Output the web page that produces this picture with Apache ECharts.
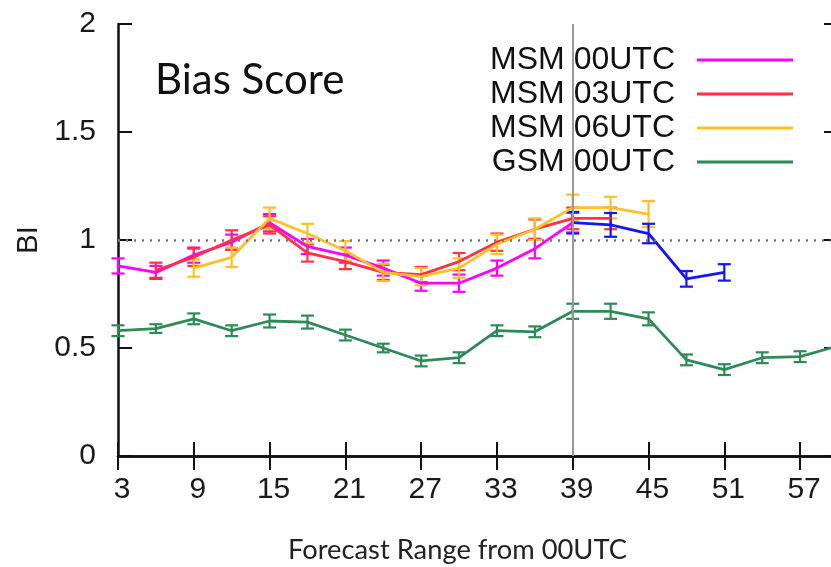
<!DOCTYPE html>
<html>
<head>
<meta charset="utf-8">
<script src="https://cdn.jsdelivr.net/npm/echarts@6/dist/echarts.min.js"></script>
<style>
  html, body { margin: 0; padding: 0; background: #fff; }
  #chart { width: 831px; height: 567px; }
</style>
</head>
<body>
<div id="chart"></div>
<script>
// forecast hours (from 00UTC) and BI values
const hoursMsm00 = [3, 6, 9, 12, 15, 18, 21, 24, 27, 30, 33, 36, 39]
const biMsm00 = [0.88, 0.85, 0.93, 0.99, 1.08, 0.97, 0.93, 0.87, 0.80, 0.80, 0.87, 0.96, 1.08]
const errMsm00 = [0.035, 0.03, 0.035, 0.035, 0.04, 0.035, 0.035, 0.035, 0.035, 0.04, 0.035, 0.045, 0.045]

const hoursMsm03 = [6, 9, 12, 15, 18, 21, 24, 27, 30, 33, 36, 39, 42]
const biMsm03 = [0.86, 0.92, 1.00, 1.07, 0.94, 0.90, 0.85, 0.84, 0.90, 0.99, 1.05, 1.10, 1.10]
const errMsm03 = [0.035, 0.04, 0.045, 0.04, 0.04, 0.035, 0.035, 0.035, 0.04, 0.04, 0.045, 0.05, 0.05]

const hoursMsm06 = [9, 12, 15, 18, 21, 24, 27, 30, 33, 36, 39, 42, 45]
const biMsm06 = [0.87, 0.92, 1.10, 1.03, 0.95, 0.85, 0.83, 0.87, 0.98, 1.05, 1.15, 1.15, 1.12]
const errMsm06 = [0.04, 0.045, 0.05, 0.045, 0.045, 0.04, 0.04, 0.045, 0.045, 0.05, 0.06, 0.05, 0.06]

// MSM 00UTC beyond 39h (drawn in blue, not in the legend)
const hoursMsm00Ext = [39, 42, 45, 48, 51]
const biMsm00Ext = [1.08, 1.07, 1.03, 0.82, 0.85]
const errMsm00Ext = [0.05, 0.055, 0.045, 0.036, 0.038]

const hoursGsm = [3, 6, 9, 12, 15, 18, 21, 24, 27, 30, 33, 36, 39, 42, 45, 48, 51, 54, 57, 60]
const biGsm = [0.58, 0.59, 0.635, 0.58, 0.625, 0.62, 0.56, 0.50, 0.44, 0.455, 0.58, 0.575, 0.67, 0.67, 0.635, 0.445, 0.40, 0.455, 0.46, 0.51]
const errGsm = [0.025, 0.02, 0.025, 0.025, 0.03, 0.03, 0.025, 0.02, 0.025, 0.025, 0.025, 0.025, 0.035, 0.035, 0.03, 0.025, 0.025, 0.025, 0.025, 0.025]

const legendNames = ['MSM 00UTC', 'MSM 03UTC', 'MSM 06UTC', 'GSM 00UTC']
const yTicks = [0, 0.5, 1, 1.5, 2]

const FONT = '"Liberation Sans", Arial, sans-serif'

const zip = (xs, ys, es) => xs.map((x, i) => (es ? [x, ys[i], es[i]] : [x, ys[i]]))

// error bars with caps, placed through the axis scales
const errorBars = (color) => (params, api) => {
  const x = api.value(0)
  const y = api.value(1)
  const e = api.value(2)
  const top = api.coord([x, y + e])
  const bot = api.coord([x, y - e])
  const w = 6.5
  const style = { stroke: color, lineWidth: 2.2 }
  return {
    type: 'group',
    children: [
      { type: 'line', shape: { x1: top[0], y1: top[1], x2: bot[0], y2: bot[1] }, style },
      { type: 'line', shape: { x1: top[0] - w, y1: top[1], x2: top[0] + w, y2: top[1] }, style },
      { type: 'line', shape: { x1: bot[0] - w, y1: bot[1], x2: bot[0] + w, y2: bot[1] }, style },
    ],
  }
}

const makeSeries = (name, color, xs, ys, es) => [
  {
    name,
    type: 'line',
    data: zip(xs, ys),
    symbol: 'none',
    lineStyle: { color, width: 2.8 },
    itemStyle: { color },
    z: 3,
  },
  {
    name,
    type: 'custom',
    data: zip(xs, ys, es),
    renderItem: errorBars(color),
    itemStyle: { color },
    z: 3,
  },
]

const chart = echarts.init(document.getElementById('chart'))

const xAxisBase = {
  type: 'value',
  min: 3,
  max: 60,
  interval: 6,
  axisLine: { lineStyle: { color: '#111', width: 2.5 } },
  axisTick: { inside: true, length: 14, lineStyle: { color: '#111', width: 2 } },
  splitLine: { show: false },
}
const yAxisBase = {
  type: 'value',
  min: 0,
  max: 2,
  interval: 0.5,
  axisLine: { show: true, lineStyle: { color: '#111', width: 2.5 } },
  axisTick: { show: true, inside: true, length: 14, lineStyle: { color: '#111', width: 2 } },
  splitLine: { show: false },
}

chart.setOption({
  backgroundColor: '#fff',
  animation: false,
  textStyle: { fontFamily: FONT },
  title: [
    {
      text: 'Bias Score',
      left: 150,
      top: 54,
      textStyle: { fontFamily: 'Lato, "Open Sans", sans-serif', fontSize: 42, fontWeight: 'normal', color: '#111' },
    },
    {
      text: 'Forecast Range from 00UTC',
      left: 283,
      top: 532,
      textStyle: { fontFamily: 'Lato, "Open Sans", sans-serif', fontSize: 27.3, fontWeight: 'normal', color: '#222' },
    },
  ],
  legend: {
    data: legendNames,
    orient: 'vertical',
    align: 'right',
    right: 33,
    top: 39,
    icon: 'rect',
    itemWidth: 96,
    itemHeight: 3,
    itemGap: 2,
    textStyle: { fontFamily: FONT, fontSize: 32, color: '#111', lineHeight: 30, padding: [0, 17, 0, 0] },
  },
  grid: { left: 118, top: 24, width: 720, height: 432, outerBoundsMode: 'none', containLabel: false },
  xAxis: [
    Object.assign({}, xAxisBase, {
      position: 'bottom',
      axisLabel: {
        color: '#1a1a1a',
        fontSize: 30,
        margin: 19,
        padding: [0, 0, 0, 8],
        formatter: (v) => (v === 60 ? '' : String(v)),
      },
    }),
    Object.assign({}, xAxisBase, { position: 'top', axisLabel: { show: false } }),
  ],
  yAxis: [
    Object.assign({}, yAxisBase, {
      position: 'left',
      name: 'BI',
      nameLocation: 'middle',
      nameRotate: 90,
      nameGap: 68,
      nameTextStyle: { fontFamily: FONT, fontSize: 29, color: '#1a1a1a' },
      axisLabel: {
        color: '#1a1a1a',
        fontSize: 30,
        margin: 22,
        customValues: yTicks,
      },
    }),
    Object.assign({}, yAxisBase, { position: 'right', axisLabel: { show: false } }),
  ],
  series: [
    // reference lines
    {
      name: 'ref',
      type: 'line',
      data: [],
      markLine: {
        silent: true,
        symbol: 'none',
        label: { show: false },
        data: [
          { yAxis: 1, lineStyle: { color: '#777', width: 2.5, type: [2, 6] } },
          { xAxis: 39, lineStyle: { color: '#999', width: 2, type: 'solid' } },
        ],
      },
      z: 1,
    },
    ...makeSeries('GSM 00UTC', '#2e8b57', hoursGsm, biGsm, errGsm),
    ...makeSeries('MSM 00UTC', '#ff00ff', hoursMsm00, biMsm00, errMsm00),
    ...makeSeries('MSM 03UTC', '#ff3344', hoursMsm03, biMsm03, errMsm03),
    ...makeSeries('MSM 06UTC', '#ffc125', hoursMsm06, biMsm06, errMsm06),
    ...makeSeries('MSM 00UTC 39h-', '#1414ff', hoursMsm00Ext, biMsm00Ext, errMsm00Ext),
  ],
})
</script>
</body>
</html>
